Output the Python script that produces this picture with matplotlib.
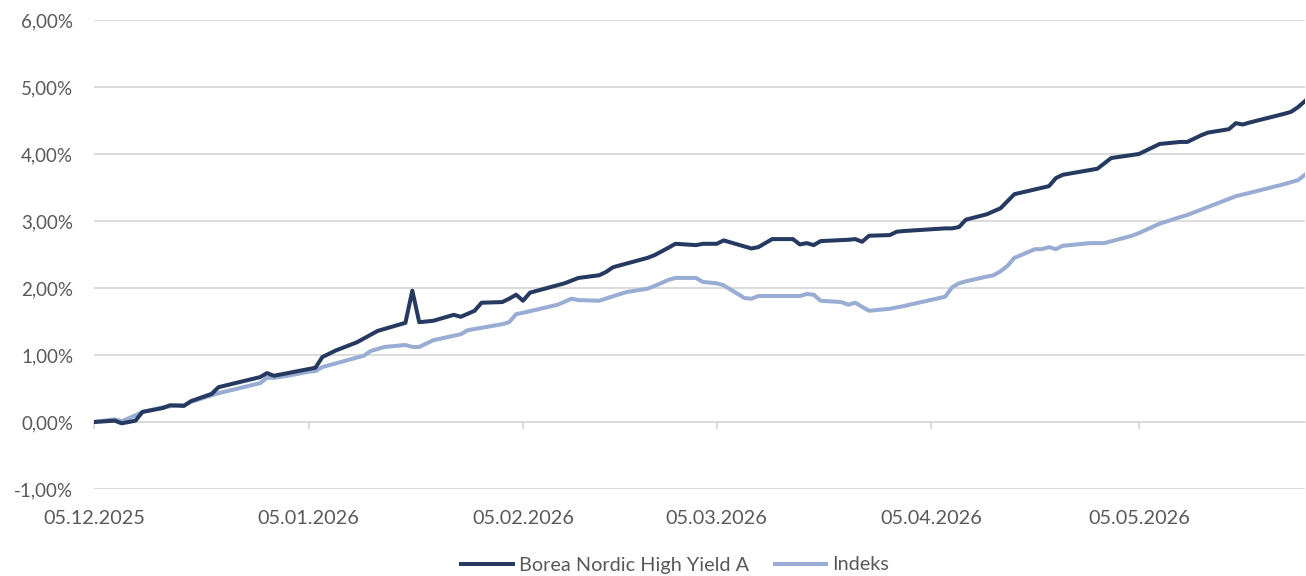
import matplotlib
matplotlib.use("Agg")
import matplotlib.pyplot as plt
import matplotlib.dates as mdates
import pandas as pd
from matplotlib.ticker import FuncFormatter, MultipleLocator

# ---- data (percent) ----
fund_dates = ["2025-12-05", "2025-12-08", "2025-12-09", "2025-12-11", "2025-12-12", "2025-12-15",
              "2025-12-16", "2025-12-18", "2025-12-19", "2025-12-22", "2025-12-23", "2025-12-29",
              "2025-12-30", "2025-12-31", "2026-01-05", "2026-01-06", "2026-01-07", "2026-01-09",
              "2026-01-12", "2026-01-15", "2026-01-16", "2026-01-19", "2026-01-20", "2026-01-21",
              "2026-01-23", "2026-01-26", "2026-01-27", "2026-01-29", "2026-01-30", "2026-02-02",
              "2026-02-03", "2026-02-04", "2026-02-05", "2026-02-06", "2026-02-11", "2026-02-13",
              "2026-02-16", "2026-02-17", "2026-02-18", "2026-02-23", "2026-02-24", "2026-02-26",
              "2026-02-27", "2026-03-02", "2026-03-03", "2026-03-05", "2026-03-06", "2026-03-10",
              "2026-03-11", "2026-03-13", "2026-03-16", "2026-03-17", "2026-03-18", "2026-03-19",
              "2026-03-20", "2026-03-24", "2026-03-25", "2026-03-26", "2026-03-27", "2026-03-30",
              "2026-03-31", "2026-04-01", "2026-04-07", "2026-04-08", "2026-04-09", "2026-04-10",
              "2026-04-13", "2026-04-15", "2026-04-17", "2026-04-22", "2026-04-23", "2026-04-24",
              "2026-04-29", "2026-05-01", "2026-05-05", "2026-05-08", "2026-05-11", "2026-05-12",
              "2026-05-13", "2026-05-14", "2026-05-15", "2026-05-18", "2026-05-19", "2026-05-20",
              "2026-05-21", "2026-05-26", "2026-05-27", "2026-05-28", "2026-05-29"]
fund_vals = [0.00, 0.02, -0.02, 0.02, 0.15, 0.21,
             0.25, 0.24, 0.31, 0.42, 0.52, 0.67,
             0.73, 0.69, 0.79, 0.81, 0.97, 1.07,
             1.19, 1.36, 1.39, 1.48, 1.96, 1.49,
             1.51, 1.60, 1.57, 1.66, 1.78, 1.79,
             1.84, 1.90, 1.81, 1.93, 2.07, 2.15,
             2.19, 2.24, 2.31, 2.45, 2.49, 2.60,
             2.66, 2.64, 2.66, 2.66, 2.71, 2.59,
             2.61, 2.73, 2.73, 2.65, 2.67, 2.64,
             2.70, 2.72, 2.73, 2.69, 2.78, 2.79,
             2.84, 2.85, 2.89, 2.89, 2.91, 3.02,
             3.10, 3.19, 3.40, 3.52, 3.64, 3.69,
             3.78, 3.94, 4.00, 4.15, 4.18, 4.18,
             4.23, 4.28, 4.32, 4.37, 4.46, 4.44,
             4.47, 4.60, 4.63, 4.70, 4.79]

idx_dates = ["2025-12-05", "2025-12-08", "2025-12-09", "2025-12-11", "2025-12-12", "2025-12-15",
             "2025-12-17", "2025-12-18", "2025-12-19", "2025-12-23", "2025-12-29", "2025-12-30",
             "2025-12-31", "2026-01-02", "2026-01-05", "2026-01-06", "2026-01-07", "2026-01-13",
             "2026-01-14", "2026-01-16", "2026-01-19", "2026-01-20", "2026-01-21", "2026-01-23",
             "2026-01-27", "2026-01-28", "2026-02-02", "2026-02-03", "2026-02-04", "2026-02-05",
             "2026-02-10", "2026-02-12", "2026-02-13", "2026-02-16", "2026-02-19", "2026-02-20",
             "2026-02-23", "2026-02-24", "2026-02-26", "2026-02-27", "2026-03-02", "2026-03-03",
             "2026-03-05", "2026-03-06", "2026-03-09", "2026-03-10", "2026-03-11", "2026-03-17",
             "2026-03-18", "2026-03-19", "2026-03-20", "2026-03-23", "2026-03-24", "2026-03-25",
             "2026-03-27", "2026-03-30", "2026-04-01", "2026-04-07", "2026-04-08", "2026-04-09",
             "2026-04-10", "2026-04-13", "2026-04-14", "2026-04-15", "2026-04-16", "2026-04-17",
             "2026-04-20", "2026-04-21", "2026-04-22", "2026-04-23", "2026-04-24", "2026-04-28",
             "2026-04-30", "2026-05-04", "2026-05-05", "2026-05-08", "2026-05-11", "2026-05-12",
             "2026-05-15", "2026-05-19", "2026-05-21", "2026-05-26", "2026-05-28", "2026-05-29"]
idx_vals = [0.00, 0.04, 0.01, 0.10, 0.15, 0.22,
            0.25, 0.25, 0.30, 0.43, 0.58, 0.66,
            0.66, 0.69, 0.75, 0.76, 0.82, 0.99,
            1.06, 1.12, 1.15, 1.12, 1.12, 1.22,
            1.31, 1.37, 1.46, 1.49, 1.61, 1.63,
            1.75, 1.84, 1.82, 1.81, 1.91, 1.94,
            1.99, 2.03, 2.12, 2.15, 2.15, 2.09,
            2.07, 2.04, 1.85, 1.84, 1.88, 1.88,
            1.91, 1.90, 1.81, 1.79, 1.75, 1.78,
            1.66, 1.69, 1.73, 1.87, 2.01, 2.07,
            2.10, 2.17, 2.19, 2.25, 2.33, 2.45,
            2.58, 2.58, 2.61, 2.58, 2.63, 2.67,
            2.67, 2.78, 2.82, 2.96, 3.06, 3.09,
            3.21, 3.37, 3.42, 3.55, 3.61, 3.69]

tick_dates = ["2025-12-05", "2026-01-05", "2026-02-05", "2026-03-05", "2026-04-05", "2026-05-05"]
series_names = ["Borea Nordic High Yield A", "Indeks"]

DARK = "#263961"
LIGHT = "#98ACD4"
GRID = "#d9d9d9"
TXT = "#595959"

plt.rcParams['font.family'] = ['Lato', 'DejaVu Sans']

fig = plt.figure(figsize=(13.06, 5.76), dpi=100)
ax = fig.add_axes([94 / 1306, 87 / 576, 1211 / 1306, 469 / 576])

fd = pd.to_datetime(fund_dates)
idd = pd.to_datetime(idx_dates)
ax.plot(fd, fund_vals, color=DARK, lw=2.9, label=series_names[0], solid_joinstyle='round', zorder=3)
ax.plot(idd, idx_vals, color=LIGHT, lw=2.9, label=series_names[1], solid_joinstyle='round', zorder=2)

ax.set_ylim(-1, 6)
ax.yaxis.set_major_locator(MultipleLocator(1))
ax.yaxis.set_major_formatter(FuncFormatter(lambda v, p: f"{v:.2f}%".replace(".", ",")))
ax.set_xlim(pd.Timestamp("2025-12-05"), pd.Timestamp("2026-05-29"))

ax.set_xticks(pd.to_datetime(tick_dates))
ax.xaxis.set_major_formatter(mdates.DateFormatter("%d.%m.%Y"))

ax.grid(axis='y', color=GRID, lw=1.3, zorder=0)
for s in ['top', 'right', 'left']:
    ax.spines[s].set_visible(False)
ax.spines['bottom'].set_position(('data', 0))
ax.spines['bottom'].set_color(GRID)
ax.spines['bottom'].set_linewidth(1.3)
ax.spines['bottom'].set_zorder(1)

ax.tick_params(axis='y', length=0, pad=15, labelsize=13.5, labelcolor=TXT)
ax.tick_params(axis='x', length=5, width=1.3, color=GRID, pad=58, labelsize=14.3, labelcolor=TXT)

leg = fig.legend(loc='center', bbox_to_anchor=(0.517, 11 / 576), ncol=2, frameon=False,
                 fontsize=14.3, handlelength=2.6, handletextpad=0.3, columnspacing=1.3)
for t in leg.get_texts():
    t.set_color(TXT)

fig.savefig("out.png", dpi=100)
